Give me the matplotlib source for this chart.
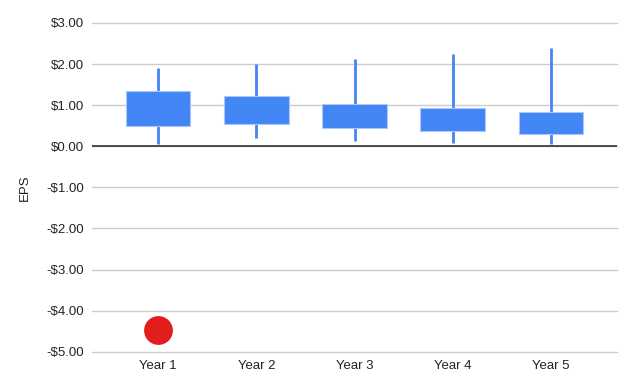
import matplotlib
matplotlib.use("Agg")
import matplotlib.pyplot as plt
from matplotlib.ticker import FuncFormatter

plt.rcParams["font.family"] = ["Liberation Sans", "DejaVu Sans"]

years = ["Year 1", "Year 2", "Year 3", "Year 4", "Year 5"]
lows = [0.06, 0.20, 0.14, 0.09, 0.06]
opens = [0.50, 0.55, 0.455, 0.38, 0.30]
closes = [1.345, 1.22, 1.03, 0.93, 0.835]
highs = [1.905, 2.01, 2.13, 2.255, 2.39]
outlier_x = ["Year 1"]
outlier_y = [-4.47]

BLUE = "#4285f4"
RED = "#e31c1c"

fig = plt.figure(figsize=(6.27, 3.82), dpi=100)
ax = fig.add_axes([92 / 627, (382 - 351.7) / 382, 525 / 627, (351.7 - 23) / 382])

xs = list(range(len(years)))
ax.vlines(xs, lows, highs, colors=BLUE, linewidth=2, zorder=3)
ax.bar(xs, [c - o for o, c in zip(opens, closes)], bottom=opens, width=0.66,
       color=BLUE, edgecolor="#a8c7fa", linewidth=0.8, zorder=4)

ox = [years.index(x) for x in outlier_x]
ax.scatter(ox, outlier_y, s=430, color=RED, zorder=5, linewidths=0)

ax.set_xlim(-0.672, len(years) - 1 + 0.672)
ax.set_ylim(-5, 3)
ax.set_yticks(range(-5, 4))
ax.yaxis.set_major_formatter(FuncFormatter(
    lambda v, _: f"${v:,.2f}" if v >= 0 else f"-${abs(v):,.2f}"))
ax.set_xticks(xs)
ax.set_xticklabels(years)

for s in ax.spines.values():
    s.set_visible(False)
ax.grid(axis="y", color="#cccccc", linewidth=1, zorder=1)
for line in ax.get_ygridlines():
    line.set_clip_on(False)
ax.axhline(0, color="#333333", linewidth=1.2, zorder=2)
ax.tick_params(length=0, labelsize=9.5, colors="#222222")
ax.tick_params(axis="x", pad=6)
ax.tick_params(axis="y", pad=6)
ax.set_ylabel("EPS", fontsize=9.5, color="#222222", labelpad=11)

fig.savefig("out.png", dpi=100, facecolor="white")
